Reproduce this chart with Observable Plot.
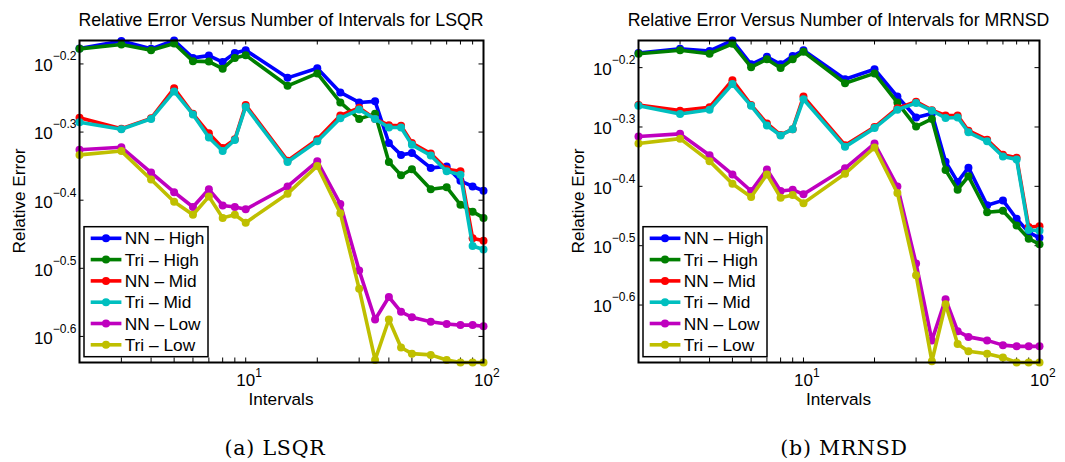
<!DOCTYPE html>
<html><head><meta charset="utf-8">
<script src="https://cdn.jsdelivr.net/npm/d3@7"></script>
<script src="https://cdn.jsdelivr.net/npm/@observablehq/plot@0.6"></script>
<style>
body{margin:0;background:#fff;}
#fig{position:relative;width:1065px;height:462px;overflow:hidden;font-family:"Liberation Sans",Arial,sans-serif;color:#000;}
#fig svg{position:absolute;top:0;}
</style></head><body><div id="fig"></div>
<script>
// ---- data ----
const intervals = [2,3,4,5,6,7,8,9,10,15,20,25,30,35,40,45,50,60,70,80,90,100];
const seriesNames = ["NN \u2013 High","Tri \u2013 High","NN \u2013 Mid","Tri \u2013 Mid","NN \u2013 Low","Tri \u2013 Low"];
const seriesColors = ["#0000ff","#007f00","#ff0000","#00bfbf","#bf00bf","#bfbf00"];

const lsqrNNHigh  = [0.665,0.682,0.664,0.683,0.644,0.649,0.635,0.655,0.661,0.602,0.622,0.573,0.554,0.556,0.483,0.464,0.467,0.444,0.446,0.425,0.417,0.411];
const lsqrTriHigh = [0.664,0.674,0.661,0.676,0.637,0.636,0.621,0.644,0.650,0.586,0.611,0.554,0.524,0.533,0.453,0.433,0.442,0.413,0.416,0.392,0.383,0.375];
const lsqrNNMid   = [0.526,0.507,0.525,0.581,0.533,0.499,0.475,0.489,0.549,0.455,0.489,0.530,0.544,0.524,0.513,0.512,0.483,0.466,0.442,0.439,0.350,0.347];
const lsqrTriMid  = [0.518,0.506,0.524,0.575,0.532,0.492,0.470,0.488,0.546,0.453,0.486,0.525,0.541,0.524,0.509,0.509,0.480,0.463,0.439,0.434,0.341,0.337];
const lsqrNNLow   = [0.472,0.476,0.437,0.409,0.389,0.413,0.391,0.389,0.386,0.417,0.454,0.393,0.314,0.266,0.287,0.273,0.268,0.264,0.262,0.261,0.261,0.260];
const lsqrTriLow  = [0.464,0.470,0.427,0.396,0.379,0.403,0.375,0.379,0.369,0.407,0.447,0.381,0.295,0.232,0.266,0.242,0.237,0.236,0.232,0.230,0.230,0.230];

const mrnsdNNHigh  = [0.668,0.679,0.673,0.701,0.639,0.658,0.639,0.660,0.675,0.603,0.627,0.564,0.520,0.528,0.438,0.405,0.428,0.370,0.377,0.351,0.333,0.326];
const mrnsdTriHigh = [0.666,0.675,0.666,0.692,0.632,0.652,0.630,0.652,0.671,0.594,0.617,0.551,0.502,0.517,0.424,0.393,0.414,0.360,0.362,0.342,0.325,0.318];
const mrnsdNNMid   = [0.546,0.534,0.541,0.601,0.546,0.508,0.486,0.497,0.564,0.467,0.501,0.539,0.553,0.535,0.524,0.524,0.494,0.477,0.450,0.445,0.340,0.341];
const mrnsdTriMid  = [0.544,0.527,0.536,0.592,0.544,0.504,0.485,0.497,0.558,0.464,0.499,0.536,0.550,0.534,0.519,0.520,0.491,0.474,0.447,0.442,0.336,0.335];
const mrnsdNNLow   = [0.483,0.488,0.449,0.417,0.391,0.425,0.391,0.393,0.386,0.427,0.470,0.398,0.295,0.219,0.257,0.227,0.222,0.219,0.215,0.214,0.214,0.214];
const mrnsdTriLow  = [0.470,0.479,0.439,0.402,0.382,0.417,0.381,0.385,0.373,0.418,0.463,0.388,0.282,0.202,0.252,0.216,0.210,0.208,0.205,0.201,0.201,0.201];

const yTickExponents = [-0.6,-0.5,-0.4,-0.3,-0.2];
const xMajorTicks = [10,100];
const xMinorTicks = [2,3,4,5,6,7,8,9,20,30,40,50,60,70,80,90];

const panels = [
  {title:"Relative Error Versus Number of Intervals for LSQR", caption:"(a) LSQR",
   series:[lsqrNNHigh,lsqrTriHigh,lsqrNNMid,lsqrTriMid,lsqrNNLow,lsqrTriLow],
   yDomain:[0.230,0.683], left:0, width:530, marginLeft:79, marginRight:47, captionX:275},
  {title:"Relative Error Versus Number of Intervals for MRNSD", caption:"(b) MRNSD",
   series:[mrnsdNNHigh,mrnsdTriHigh,mrnsdNNMid,mrnsdTriMid,mrnsdNNLow,mrnsdTriLow],
   yDomain:[0.201,0.701], left:530, width:535, marginLeft:108, marginRight:26, captionX:844}
];

const fig = document.getElementById("fig");
const HEIGHT = 420, MT = 40, MB = 58;
const TICK = 4.5;
const FONT = "Liberation Sans, Arial, sans-serif";

const overlay = d3.create("svg").attr("width",1065).attr("height",462)
  .style("left","0px").style("pointer-events","none")
  .attr("font-family", FONT).attr("fill","#000");

panels.forEach(p => {
  const W = p.width - p.marginLeft - p.marginRight;
  const H = HEIGHT - MT - MB;
  const yTicks = yTickExponents.map(e => 10 ** e);
  const allX = xMajorTicks.concat(xMinorTicks);
  const marks = [
    Plot.ruleY(yTicks, {y: d => d, insetRight: W - TICK, stroke:"#000", strokeWidth:1}),
    Plot.ruleY(yTicks, {y: d => d, insetLeft: W - TICK, stroke:"#000", strokeWidth:1}),
    Plot.ruleX(allX, {x: d => d, insetTop: H - TICK, stroke:"#000", strokeWidth:1}),
    Plot.ruleX(allX, {x: d => d, insetBottom: H - TICK, stroke:"#000", strokeWidth:1})
  ];
  p.series.forEach((vals, i) => {
    const data = intervals.map((x, j) => ({x, y: vals[j]}));
    marks.push(Plot.line(data, {x:"x", y:"y", stroke: seriesColors[i], strokeWidth: 3.6}));
    marks.push(Plot.dot(data, {x:"x", y:"y", fill: seriesColors[i], stroke:"none", r: 4}));
  });
  marks.push(Plot.frame({stroke:"#000", strokeWidth:2}));
  marks.push(Plot.axisY({ticks: yTicks, tickSize:0, tickPadding:3, fontSize:17, label:null,
    tickFormat: d => (Math.round(Math.log10(d)*10)/10).toFixed(1).replace("-","\u2212")}));
  marks.push(Plot.axisX({ticks: xMajorTicks, tickSize:0, tickPadding:11, fontSize:17, label:null,
    tickFormat: d => String(Math.round(Math.log10(d)))}));

  const svg = Plot.plot({
    width: p.width, height: HEIGHT,
    marginLeft: p.marginLeft, marginRight: p.marginRight, marginTop: MT, marginBottom: MB,
    style: {fontFamily: FONT, fontSize: "17px", color:"#000", background:"transparent"},
    x: {type:"log", domain:[2,100]},
    y: {type:"log", domain:p.yDomain},
    marks
  });
  svg.style.left = p.left + "px";
  fig.appendChild(svg);

  // superscript-style tick labels: 10^{e}
  d3.select(svg).selectAll('g[aria-label="y-axis tick label"] text').each(function(){
    const t = this.textContent; this.textContent = "";
    const s = d3.select(this).attr("font-size", 17).attr("y", "0.43em").attr("dy", null);
    s.append("tspan").text("10");
    s.append("tspan").attr("dy", -11).attr("font-size", 12).text(t);
  });
  d3.select(svg).selectAll('g[aria-label="x-axis tick label"] text').each(function(){
    const t = this.textContent; this.textContent = "";
    const s = d3.select(this).attr("text-anchor","start").attr("font-size", 17);
    s.append("tspan").attr("dx", -9.4).text("10");
    s.append("tspan").attr("dy", -9).attr("font-size", 12).text(t);
  });

  const L = p.left + p.marginLeft, R = p.left + p.width - p.marginRight;
  const cx = (L + R) / 2, cy = (MT + HEIGHT - MB) / 2;
  overlay.append("text").attr("x", cx).attr("y", 26).attr("text-anchor","middle")
    .attr("font-size", 17.7).text(p.title);
  overlay.append("text").attr("x", cx).attr("y", 404.5).attr("text-anchor","middle")
    .attr("font-size", 17.2).text("Intervals");
  overlay.append("text").attr("transform", `translate(${L - 54},${cy}) rotate(-90)`)
    .attr("text-anchor","middle").attr("font-size", 17.2).text("Relative Error");
  overlay.append("text").attr("x", p.captionX).attr("y", 455).attr("text-anchor","middle")
    .attr("font-family","DejaVu Serif, serif").attr("font-size", 20.5).attr("letter-spacing", 0.8)
    .text(p.caption);

  // legend
  const lx = L + 5, ly = 226.7, lw = 124, lh = 130;
  const g = overlay.append("g");
  g.append("rect").attr("x", lx).attr("y", ly).attr("width", lw).attr("height", lh)
    .attr("fill","#fff").attr("stroke","#000").attr("stroke-width",1.5);
  seriesNames.forEach((name, i) => {
    const ry = ly + 11.6 + i * 21.3;
    g.append("line").attr("x1", lx + 6.7).attr("x2", lx + 37.4).attr("y1", ry).attr("y2", ry)
      .attr("stroke", seriesColors[i]).attr("stroke-width", 3.6);
    g.append("circle").attr("cx", lx + 22).attr("cy", ry).attr("r", 4).attr("fill", seriesColors[i]);
    g.append("text").attr("x", lx + 40.7).attr("y", ry + 6).attr("font-size", 17.3).text(name);
  });
});
fig.appendChild(overlay.node());
</script></body></html>
